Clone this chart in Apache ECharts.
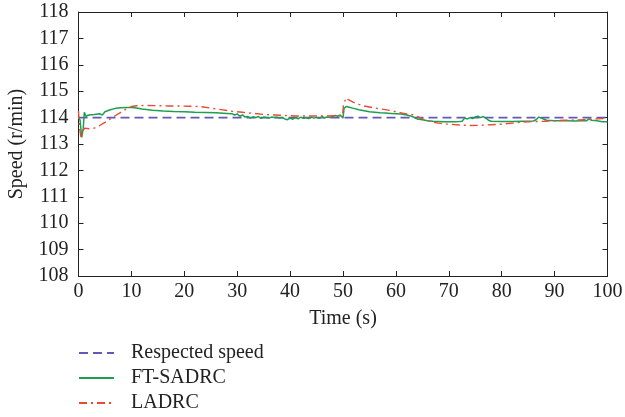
<!DOCTYPE html>
<html><head><meta charset="utf-8">
<script src="https://cdn.jsdelivr.net/npm/echarts@6/dist/echarts.min.js"></script>
<style>html,body{margin:0;padding:0;background:#fff}#c{width:625px;height:417px}</style>
</head><body><div id="c"></div>
<script>
const xTicks = [0,10,20,30,40,50,60,70,80,90,100];
const yTicks = [108,109,110,111,112,113,114,115,116,117,118];
const seriesNames = ['Respected speed','FT-SADRC','LADRC'];
const refSpeed = [[0,114],[100,114]];
const ftsadrc = [[0,114.0],[0.3,113.9],[0.6,113.25],[0.9,113.6],[1.1,114.2],[1.4,114.05],[2,114.1],[3,114.12],[4,114.15],[4.5,114.1],[5,114.22],[6,114.3],[7,114.35],[8,114.37],[9,114.38],[10,114.38],[11,114.36],[12,114.33],[14,114.28],[16,114.25],[18,114.23],[20,114.22],[22,114.2],[24,114.19],[26,114.18],[28,114.16],[29,114.15],[29.5,114.1],[30,114.14],[30.5,114.05],[31,114.1],[31.5,114.02],[32,114.04],[32.5,113.98],[33,114.03],[33.5,114.0],[34,114.04],[34.5,113.97],[35,114.02],[35.5,114.0],[36,113.98],[36.5,114.02],[37,114.0],[37.5,114.01],[38,113.98],[38.5,114.0],[39,113.95],[39.5,113.92],[40,113.98],[40.5,113.94],[41,114.0],[41.5,113.95],[42,114.02],[42.5,113.97],[43,114.0],[43.5,113.96],[44,114.02],[44.5,113.98],[45,114.01],[45.5,113.97],[46,114.03],[46.5,113.99],[47,114.02],[47.5,114.0],[48,114.05],[48.5,114.08],[49,114.05],[49.5,114.1],[50,113.98],[50.2,114.35],[50.6,114.42],[51,114.4],[52,114.35],[53,114.3],[54,114.26],[55,114.22],[56,114.2],[57,114.18],[58,114.17],[59,114.16],[60,114.15],[61,114.14],[62,114.1],[63,114.05],[64,113.95],[65,113.92],[66,113.88],[67,113.86],[68,113.85],[69,113.84],[70,113.84],[71,113.84],[72,113.85],[72.5,113.86],[73,113.98],[73.5,113.95],[74,114.0],[74.5,113.96],[75,114.02],[75.5,114.05],[76,114.0],[76.5,114.04],[77,113.98],[77.5,113.9],[78,113.86],[80,113.85],[82,113.85],[84,113.86],[86,113.87],[86.5,113.92],[87,114.02],[87.5,113.98],[88,113.94],[88.5,113.9],[90,113.88],[92,113.88],[94,113.87],[95,113.88],[96,113.88],[96.5,113.95],[97,113.9],[98,113.88],[99,113.84],[100,113.84]];
const ladrc = [[0,114.25],[0.2,113.6],[0.5,113.2],[0.8,113.5],[1.2,113.6],[2,113.58],[3,113.6],[4,113.7],[5,113.82],[6,113.95],[7,114.08],[8,114.2],[9,114.32],[10,114.42],[11,114.45],[13,114.46],[15,114.45],[17,114.44],[19,114.44],[21,114.43],[23,114.42],[25,114.36],[27,114.3],[29,114.24],[31,114.2],[33,114.16],[35,114.12],[37,114.1],[39,114.08],[41,114.06],[43,114.06],[45,114.06],[47,114.06],[49,114.07],[49.9,114.07],[50.1,114.5],[50.6,114.75],[51,114.68],[52,114.58],[53,114.5],[54,114.44],[55,114.4],[56,114.36],[57,114.33],[58,114.3],[59,114.27],[60,114.22],[61,114.18],[62,114.14],[63,114.12],[64,114.05],[65,113.95],[66,113.88],[67,113.83],[68,113.79],[70,113.75],[72,113.72],[74,113.7],[76,113.71],[78,113.73],[80,113.75],[82,113.79],[84,113.83],[86,113.85],[88,113.86],[90,113.88],[92,113.9],[94,113.91],[96,113.92],[98,113.95],[100,113.97]];

const font = 'Liberation Serif';
const fs = 20;
const chart = echarts.init(document.getElementById('c'), null, {renderer:'canvas'});
const axisCommon = {
  axisLine:{show:true,onZero:false,lineStyle:{color:'#222',width:1}},
  axisTick:{show:true,inside:true,length:5,lineStyle:{color:'#222'}},
  splitLine:{show:false}
};
chart.setOption({
  animation:false,
  backgroundColor:'#fff',
  grid:[{left:78.5,right:17.5,top:12,bottom:141,show:false,containLabel:false,outerBoundsMode:'none'}],
  xAxis:[
    Object.assign({type:'value',min:xTicks[0],max:xTicks[xTicks.length-1],interval:10,
      name:'Time (s)',nameLocation:'middle',nameGap:33,
      nameTextStyle:{fontFamily:font,fontSize:fs,color:'#222'},
      axisLabel:{fontFamily:font,fontSize:fs,color:'#222',margin:6}},axisCommon),
    Object.assign({type:'value',position:'top',min:0,max:100,interval:10,axisLabel:{show:false}},axisCommon)
  ],
  yAxis:[
    Object.assign({type:'value',min:yTicks[0],max:yTicks[yTicks.length-1],interval:1,
      name:'Speed (r/min)',nameLocation:'middle',nameGap:52,
      nameTextStyle:{fontFamily:font,fontSize:fs,color:'#222'},
      axisLabel:{fontFamily:font,fontSize:fs,color:'#222',margin:10}},axisCommon),
    Object.assign({type:'value',position:'right',min:108,max:118,interval:1,axisLabel:{show:false}},axisCommon)
  ],
  legend:{
    orient:'vertical',left:73,top:338,height:120,itemWidth:35,itemHeight:14,itemGap:5,
    itemStyle:{opacity:0},
    textStyle:{fontFamily:font,fontSize:fs,lineHeight:20,color:'#222',padding:[0,0,0,12]},
    data:seriesNames
  },
  series:[
    {name:seriesNames[0],type:'line',data:refSpeed,symbol:'none',
      lineStyle:{color:'#6358b8',width:1.8,type:[9,5]},itemStyle:{color:'#6358b8'},z:3},
    {name:seriesNames[1],type:'line',data:ftsadrc,symbol:'none',
      lineStyle:{color:'#1aa050',width:1.5},itemStyle:{color:'#1aa050'},z:4},
    {name:seriesNames[2],type:'line',data:ladrc,symbol:'none',
      lineStyle:{color:'#ea4a30',width:1.4,type:[8,4,2,4]},itemStyle:{color:'#ea4a30'},z:5}
  ]
});
</script></body></html>
